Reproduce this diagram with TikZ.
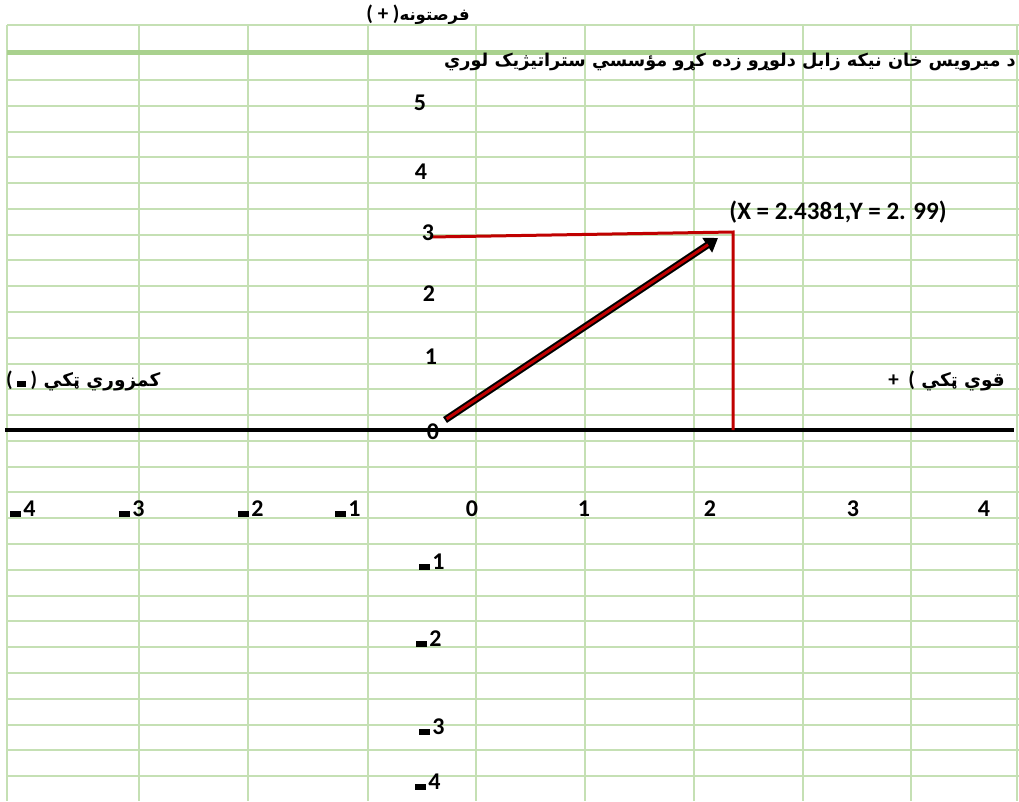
\documentclass[tikz,border=0pt]{standalone}
\usepackage{fontspec}
\newfontfamily\numfont{Carlito Bold}
\newfontfamily\arabicfont[Script=Arabic]{DejaVu Sans Bold}
\TeXXeTstate=1
\usetikzlibrary{arrows.meta}
\definecolor{gridc}{HTML}{C5E0B4}
\definecolor{gridd}{HTML}{A9D18E}
\definecolor{redc}{HTML}{C00000}
\newcommand\mbar{\rule{0.42em}{0.24em}\kern0.12em}
\newcommand\lat[1]{{\numfont\fontsize{21}{21}\selectfont #1}}
\begin{document}
\begin{tikzpicture}[x=1pt,y=-1pt,
  gridline/.style={gridc, line width=2pt},
  gridthick/.style={gridd, line width=5pt},
  axisline/.style={black, line width=4pt},
  redline/.style={redc, line width=3pt, line join=miter},
  ticklab/.style={font=\numfont\fontsize{24}{24}\selectfont, inner sep=0pt},
  coordlab/.style={font=\numfont\fontsize{25}{25}\selectfont, inner sep=0pt},
  artext/.style={font=\arabicfont\fontsize{17.7}{18}\selectfont, inner sep=0pt},
  arside/.style={font=\arabicfont\fontsize{18.5}{19}\selectfont, inner sep=0pt}]
\useasboundingbox (0,0) rectangle (1019,801);
% grid
\foreach \x in {7,139,248,368,476,585,694,803,911,1017}
  \draw[gridline] (\x,25) -- (\x,801);
\foreach \k in {0,...,27}
  \draw[gridline] (7,{80+25.78*\k}) -- (1019,{80+25.78*\k});
\draw[gridline] (7,25) -- (1019,25);
\draw[gridthick] (7,52) -- (1019,52);
% axis
\coordinate (axl) at (5,430);
\coordinate (axr) at (1014,430);
\draw[axisline] (axl) -- (axr);
% red lines
\coordinate (r1) at (430,237);
\coordinate (r2) at (733,232);
\coordinate (r3) at (733,430);
\draw[redline] (r1) -- (r2) -- (r3);
% arrow
\coordinate (o) at (445,420);
\coordinate (p) at (718,238);
\draw[black, line width=7pt, -{Triangle[length=13pt,width=17pt]}] (o) -- (p);
\draw[redc, line width=3pt, shorten >=12pt, shorten <=2pt] (o) -- (p);
% texts
\node[artext, font=\arabicfont\fontsize{16.5}{17}\selectfont, anchor=east] (top) at (470,15) {\lat{( + )}\beginR فرصتونه\endR};
\node[artext, anchor=east] (title) at (1016,62) {\beginR د ميرويس خان نيكه زابل دلوړو زده کړو مؤسسي ستراتيژيک لوري\endR};
\node[arside, anchor=west] (weak) at (6,381) {\lat{( \rule{0.4em}{0.25em} )} \beginR کمزوري ټکي\endR};
\node[arside, anchor=east] (strong) at (1005,381) {\lat{+ \ (} \beginR قوي ټکي\endR};
\node[coordlab] (pt) at (838,212) {(X = 2.4381,Y = 2. 99)};
% y ticks
\node[ticklab] (y5) at (420,103) {5};
\node[ticklab] (y4) at (421,172) {4};
\node[ticklab] (y3) at (428,233) {3};
\node[ticklab] (y2) at (429,294) {2};
\node[ticklab] (y1) at (431,357) {1};
\node[ticklab] (y0) at (433,432) {0};
\node[ticklab] (ym1) at (432,562) {\mbar1};
\node[ticklab] (ym2) at (429,639) {\mbar2};
\node[ticklab] (ym3) at (432,727) {\mbar3};
\node[ticklab] (ym4) at (428,782) {\mbar4};
% x ticks
\node[ticklab] (xm4) at (23,509) {\mbar4};
\node[ticklab] (xm3) at (132,509) {\mbar3};
\node[ticklab] (xm2) at (251,509) {\mbar2};
\node[ticklab] (xm1) at (348,509) {\mbar1};
\node[ticklab] (x0) at (472,509) {0};
\node[ticklab] (x1) at (584,509) {1};
\node[ticklab] (x2) at (710,509) {2};
\node[ticklab] (x3) at (853,509) {3};
\node[ticklab] (x4) at (984,509) {4};
\end{tikzpicture}
\end{document}
